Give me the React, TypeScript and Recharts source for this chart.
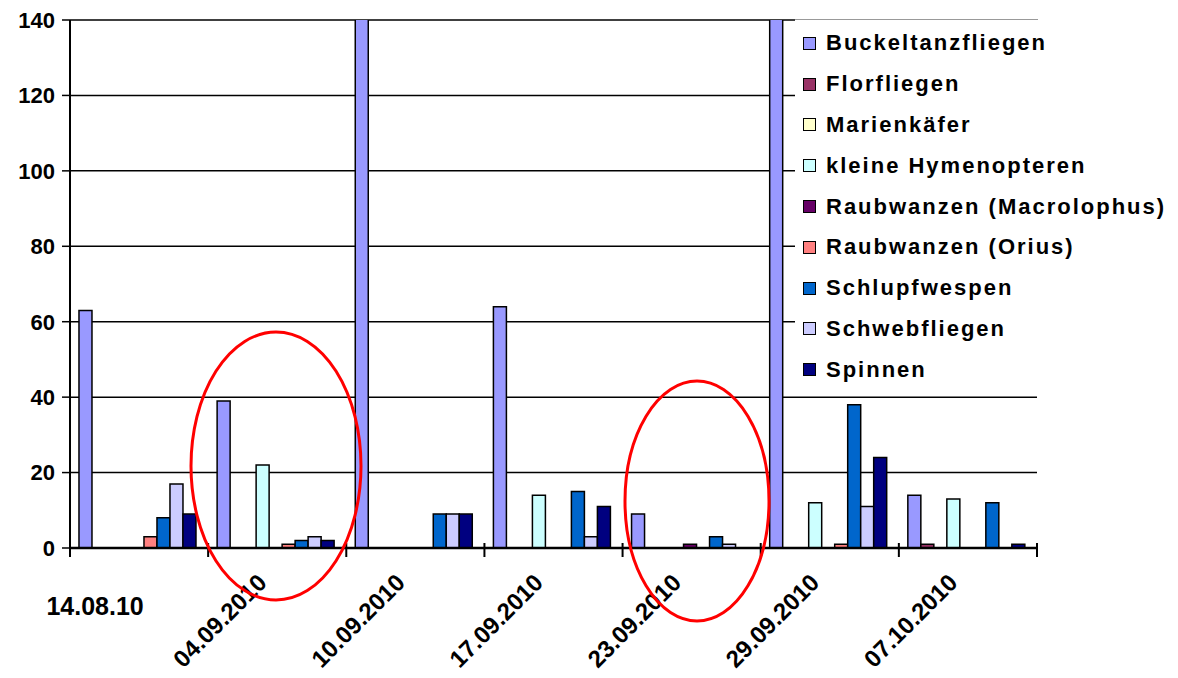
import { Bar, BarChart, CartesianGrid, Legend, XAxis, YAxis } from "recharts";

const DATES = ["14.08.10", "04.09.2010", "10.09.2010", "17.09.2010", "23.09.2010", "29.09.2010", "07.10.2010"];

// two Buckeltanzfliegen counts run off the top of the scale (bars are clipped at 140)
const BUCKELTANZFLIEGEN = [63, 39, 185, 64, 9, 160, 14];
const FLORFLIEGEN = [0, 0, 0, 0, 0, 0, 1];
const MARIENKAEFER = [0, 0, 0, 0, 0, 0, 0];
const KLEINE_HYMENOPTEREN = [0, 22, 0, 14, 0, 12, 13];
const RAUBWANZEN_MACROLOPHUS = [0, 0, 0, 0, 1, 0, 0];
const RAUBWANZEN_ORIUS = [3, 1, 0, 0, 0, 1, 0];
const SCHLUPFWESPEN = [8, 2, 9, 15, 3, 38, 12];
const SCHWEBFLIEGEN = [17, 3, 9, 3, 1, 11, 0];
const SPINNEN = [9, 2, 9, 11, 0, 24, 1];

const Y_TICKS = [0, 20, 40, 60, 80, 100, 120, 140];

const SERIES = [
  { name: "Buckeltanzfliegen", values: BUCKELTANZFLIEGEN, color: "#9999FF" },
  { name: "Florfliegen", values: FLORFLIEGEN, color: "#993366" },
  { name: "Marienkäfer", values: MARIENKAEFER, color: "#FFFFCC" },
  { name: "kleine Hymenopteren", values: KLEINE_HYMENOPTEREN, color: "#CCFFFF" },
  { name: "Raubwanzen (Macrolophus)", values: RAUBWANZEN_MACROLOPHUS, color: "#660066" },
  { name: "Raubwanzen (Orius)", values: RAUBWANZEN_ORIUS, color: "#FF8080" },
  { name: "Schlupfwespen", values: SCHLUPFWESPEN, color: "#0066CC" },
  { name: "Schwebfliegen", values: SCHWEBFLIEGEN, color: "#CCCCFF" },
  { name: "Spinnen", values: SPINNEN, color: "#000080" },
];

const data = DATES.map((date, i) => {
  const row: Record<string, string | number> = { date };
  SERIES.forEach((s) => {
    row[s.name] = s.values[i];
  });
  return row;
});

const FONT = "'Liberation Sans', Arial, sans-serif";

function DateTick(props: any) {
  const { x, y, payload, index } = props;
  const half = payload?.offset ?? 69;
  const last = index === DATES.length - 1;
  const tx = x - 9;
  const ty = y + 36;
  return (
    <g>
      <line x1={x - half} x2={x - half} y1={y - 5} y2={y + 9} stroke="#000" strokeWidth={2} />
      {last && <line x1={x + half} x2={x + half} y1={y - 5} y2={y + 9} stroke="#000" strokeWidth={2} />}
      {index === 0 ? (
        <text x={x - 44} y={y + 67} textAnchor="middle" fontFamily={FONT} fontWeight="bold" fontSize={25} fill="#000">
          {payload.value}
        </text>
      ) : (
        <text
          x={tx}
          y={ty}
          textAnchor="end"
          fontFamily={FONT}
          fontWeight="bold"
          fontSize={24}
          fill="#000"
          transform={`rotate(-45, ${tx}, ${ty})`}
        >
          {payload.value}
        </text>
      )}
    </g>
  );
}

// legend keeps the series order (recharts would sort it by name)
function LegendBox() {
  return (
    <div style={{ paddingTop: 3 }}>
      {SERIES.map((s) => (
        <div key={s.name} style={{ display: "flex", alignItems: "center", height: 40.8 }}>
          <span
            style={{
              width: 11,
              height: 11,
              marginLeft: 8,
              marginRight: 10,
              background: s.color,
              border: "1px solid #000",
              flexShrink: 0,
            }}
          />
          <span
            style={{
              fontFamily: FONT,
              fontWeight: "bold",
              fontSize: 22,
              letterSpacing: 2,
              color: "#000",
              whiteSpace: "nowrap",
            }}
          >
            {s.name}
          </span>
        </div>
      ))}
    </div>
  );
}

export default function App() {
  return (
    <div style={{ position: "absolute", left: 0, top: 0, width: 1178, height: 678, background: "#fff" }}>
      <BarChart
        width={1178}
        height={678}
        data={data}
        margin={{ top: 20, right: 141, bottom: 100, left: 0 }}
        barCategoryGap="6.5%"
        barGap={0}
      >
        <CartesianGrid vertical={false} stroke="#000" strokeWidth={1.5} strokeOpacity={1} />
        <XAxis
          dataKey="date"
          height={30}
          interval={0}
          tickLine={false}
          tickSize={0}
          tickMargin={0}
          tick={<DateTick />}
          axisLine={{ stroke: "#000", strokeWidth: 2.5 }}
        />
        <YAxis
          domain={[0, 140]}
          ticks={Y_TICKS}
          allowDataOverflow
          width={70}
          tickSize={8}
          tickMargin={7}
          tickLine={{ stroke: "#000", strokeWidth: 1.5 }}
          axisLine={{ stroke: "#000", strokeWidth: 2 }}
          tick={{ fontFamily: FONT, fontWeight: "bold", fontSize: 22, fill: "#000" }}
        />
        <YAxis
          yAxisId="frame"
          orientation="right"
          width={0}
          tick={false}
          tickLine={false}
          axisLine={{ stroke: "#000", strokeWidth: 2 }}
        />
        <Legend
          layout="vertical"
          align="center"
          verticalAlign="middle"
          content={<LegendBox />}
          wrapperStyle={{
            position: "absolute",
            left: 795,
            top: 19,
            width: 243,
            height: 367,
            background: "#fff",
            borderTop: "1px solid #999",
            overflow: "visible",
          }}
        />
        {SERIES.map((s) => (
          <Bar
            key={s.name}
            dataKey={s.name}
            name={s.name}
            fill={s.color}
            stroke="#000"
            strokeWidth={1.5}
            isAnimationActive={false}
          />
        ))}
      </BarChart>
      <svg
        width={1178}
        height={678}
        style={{ position: "absolute", left: 0, top: 0, pointerEvents: "none" }}
      >
        <ellipse cx={276} cy={466} rx={85} ry={134} fill="none" stroke="#FF0000" strokeWidth={3} />
        <ellipse cx={697} cy={501} rx={72} ry={120} fill="none" stroke="#FF0000" strokeWidth={3} />
      </svg>
    </div>
  );
}
